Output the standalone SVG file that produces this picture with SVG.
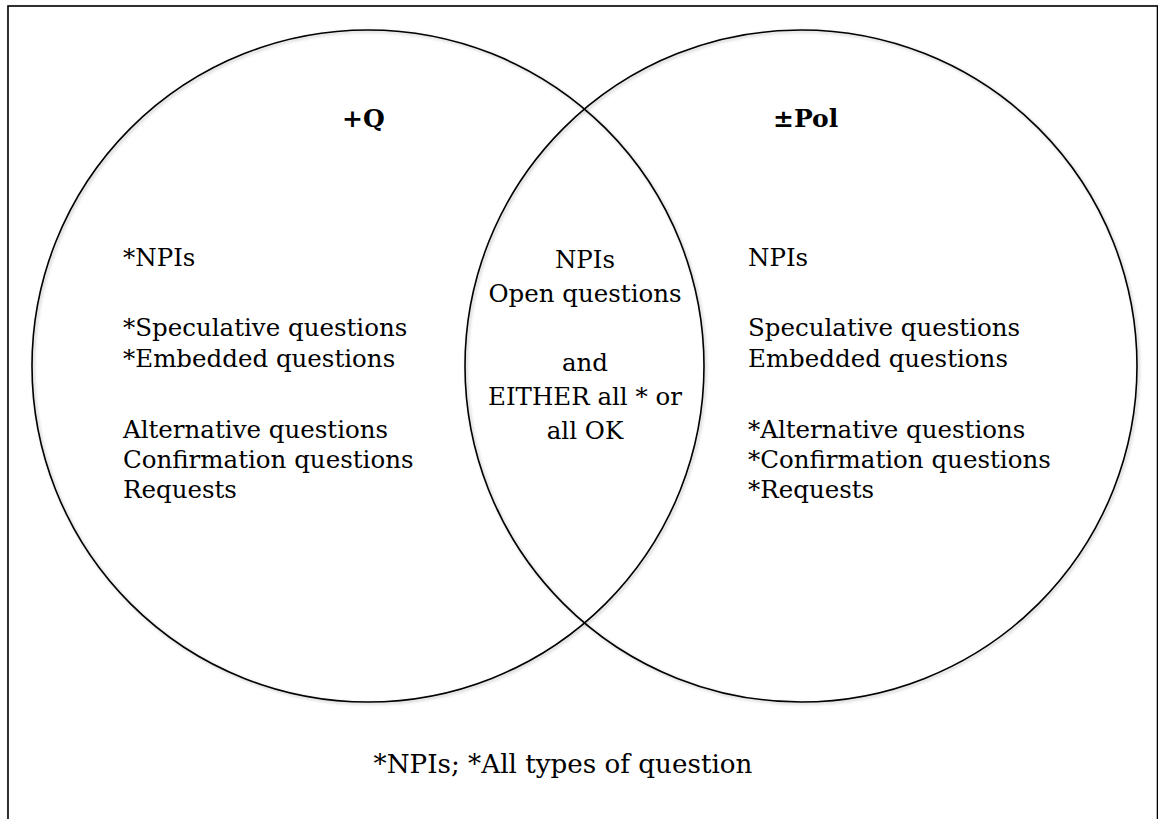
<svg xmlns="http://www.w3.org/2000/svg" width="1158" height="819" viewBox="0 0 1158 819">
  <defs>
    <filter id="shadow" x="-5%" y="-5%" width="110%" height="110%">
      <feDropShadow dx="1.5" dy="1.5" stdDeviation="1.5" flood-color="#000" flood-opacity="0.25"/>
    </filter>
  </defs>
  <style>
    .frame { fill: #fff; stroke: #000; stroke-width: 1.6; }
    .set { fill: none; stroke: #000; stroke-width: 1.6; }
    .t { font-family: "DejaVu Serif", "Liberation Serif", serif; font-size: 24.5px; fill: #000; }
    .h { font-family: "DejaVu Serif", "Liberation Serif", serif; font-size: 25px; font-weight: bold; fill: #000; }
    .c { text-anchor: middle; }
  </style>
  <rect x="0" y="0" width="1158" height="819" fill="#fff"/>
  <rect class="frame" x="8" y="6" width="1149.5" height="840" filter="url(#shadow)"/>

  <g id="set-q">
    <circle class="set" cx="368" cy="366" r="336" filter="url(#shadow)"/>
    <text class="h" x="342" y="127">+Q</text>
    <text class="t" x="123" y="266">*NPIs</text>
    <text class="t" x="123" y="336">*Speculative questions</text>
    <text class="t" x="123" y="367">*Embedded questions</text>
    <text class="t" x="123" y="438">Alternative questions</text>
    <text class="t" x="123" y="468">Confirmation questions</text>
    <text class="t" x="123" y="498">Requests</text>
  </g>

  <g id="set-pol">
    <circle class="set" cx="801" cy="366" r="336" filter="url(#shadow)"/>
    <text class="h" x="773" y="127">±Pol</text>
    <text class="t" x="748" y="266">NPIs</text>
    <text class="t" x="748" y="336">Speculative questions</text>
    <text class="t" x="748" y="367">Embedded questions</text>
    <text class="t" x="748" y="438">*Alternative questions</text>
    <text class="t" x="748" y="468">*Confirmation questions</text>
    <text class="t" x="748" y="498">*Requests</text>
  </g>

  <g id="intersection">
    <text class="t c" x="585" y="268">NPIs</text>
    <text class="t c" x="585" y="302">Open questions</text>
    <text class="t c" x="585" y="371">and</text>
    <text class="t c" x="585" y="405">EITHER all * or</text>
    <text class="t c" x="585" y="439">all OK</text>
  </g>

  <g id="outside">
    <text class="t c" x="563" y="773" style="font-size:26.2px">*NPIs; *All types of question</text>
  </g>

  <g id="connectors"></g>
</svg>
